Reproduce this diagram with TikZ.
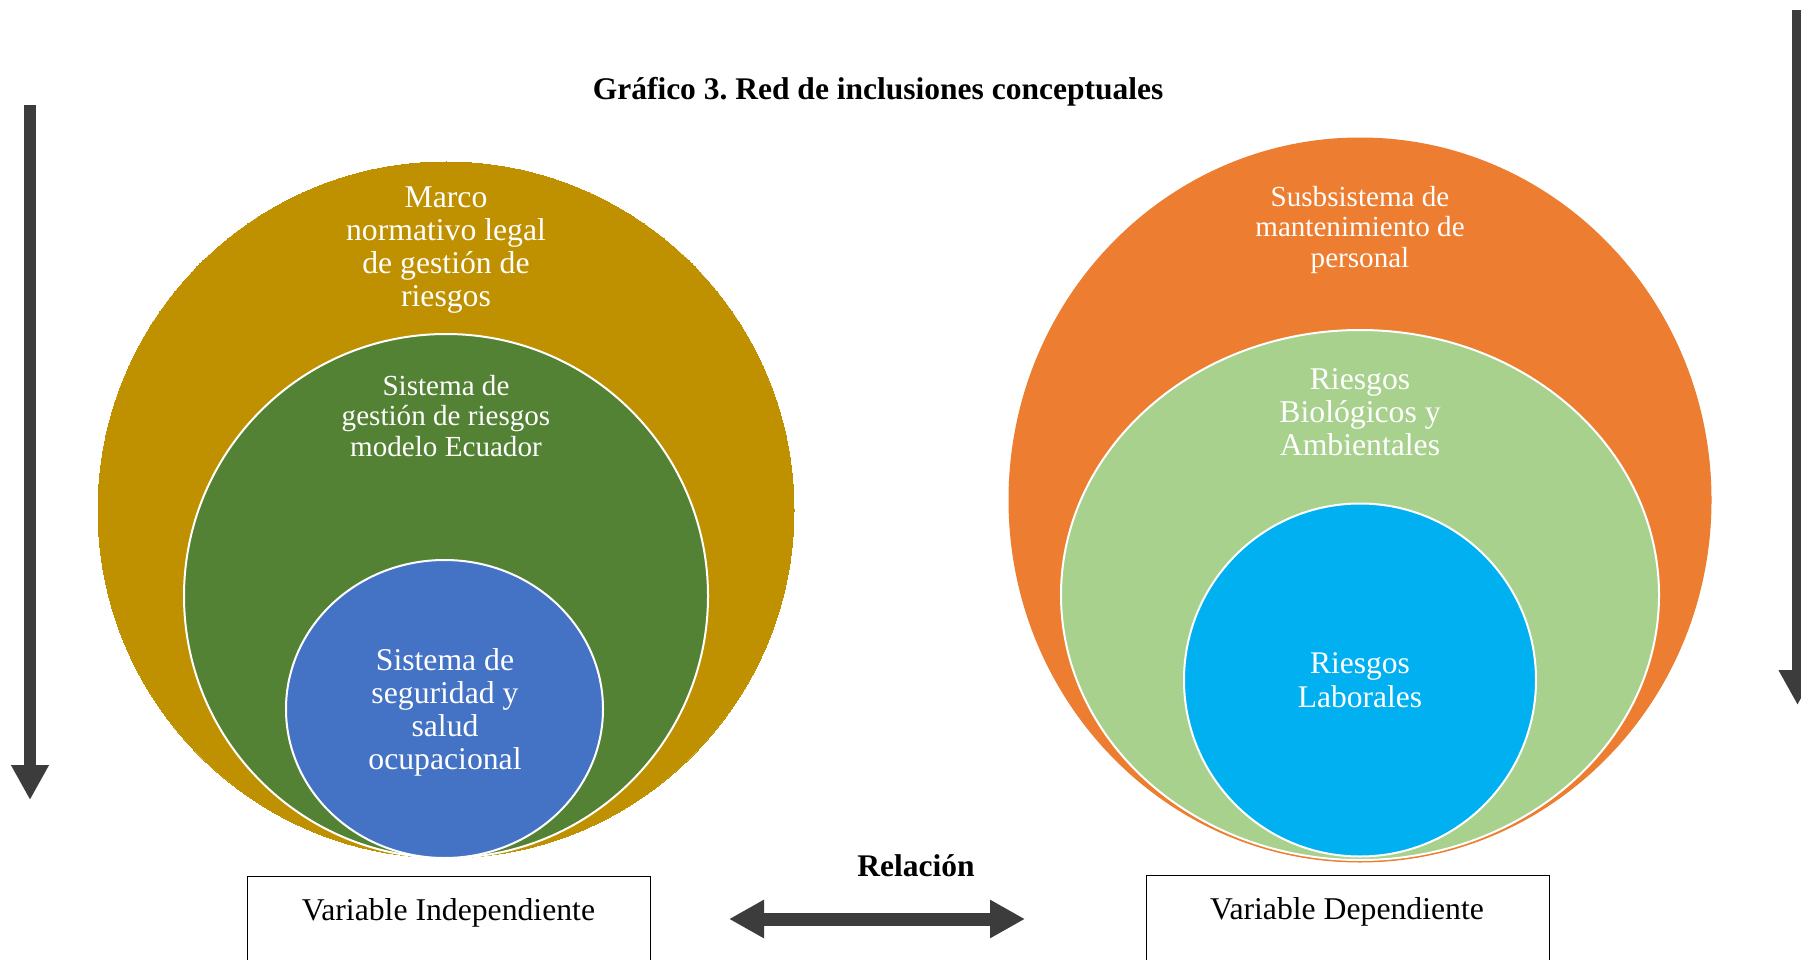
\documentclass[tikz,border=0pt]{standalone}
\usepackage{fontspec}
\setmainfont{Liberation Serif}
\usetikzlibrary{shapes.geometric,arrows.meta}
\frenchspacing
\definecolor{cgold}{HTML}{BF9000}
\definecolor{cgreen}{HTML}{548235}
\definecolor{cblue}{HTML}{4472C4}
\definecolor{corange}{HTML}{ED7D31}
\definecolor{clgreen}{HTML}{A9D18E}
\definecolor{ccyan}{HTML}{00B0F0}
\definecolor{carrow}{HTML}{3C3C3C}
\tikzset{
  blob/.style={ellipse, inner sep=0pt, draw=white, line width=2pt},
  lbl/.style={text=white, align=center, anchor=base, inner sep=0pt},
  fbig/.style={font=\fontsize{31.7}{32.7}\selectfont},
  fsmall/.style={font=\fontsize{29.1}{30.3}\selectfont},
  thickarrow/.style={draw=carrow, line width=12pt},
  headtip/.style={-{Triangle[width=35.5pt,length=35pt]}},
  varbox/.style={draw=black, line width=1.3pt, minimum width=403pt, minimum height=120pt, anchor=north west, inner sep=0pt},
  plain/.style={anchor=base, inner sep=0pt, font=\fontsize{31.7}{33}\selectfont},
}
\begin{document}
\begin{tikzpicture}[x=1pt,y=-1pt]
\useasboundingbox (0,0) rectangle (1801,960);
\clip (0,0) rectangle (1801,960);
\fill[white] (0,0) rectangle (1801,960);

% title
\node[plain, font=\bfseries\fontsize{31.5}{33}\selectfont] (title) at (878,100) {Gráfico 3. Red de inclusiones conceptuales};

% vertical arrows
\coordinate (la1) at (30,105);
\coordinate (la2) at (30,800);
\draw[thickarrow, headtip] (la1) -- (la2);
\coordinate (ra1) at (1797.5,10);
\coordinate (ra2) at (1797.5,705);
\draw[thickarrow, headtip] (ra1) -- (ra2);

% left circles
\node[blob, draw=cgold, line width=0pt, fill=cgold, minimum width=696pt, minimum height=696pt] (gold) at (446,510) {};
\node[blob, fill=cgreen, minimum width=524pt, minimum height=524pt] (green) at (446,596) {};
\node[blob, fill=cblue, minimum width=317pt, minimum height=298pt] (blue) at (444.5,709) {};

% (anchor base = baseline of the last line)
\node[lbl, fbig] (tgold) at (446,306) {Marco\\normativo legal\\de gestión de\\riesgos};
\node[lbl, fsmall] (tgreen) at (446,456) {Sistema de\\gestión de riesgos\\modelo Ecuador};
\node[lbl, font=\fontsize{31.7}{33}\selectfont] (tblue) at (445,769) {Sistema de\\seguridad y\\salud\\ocupacional};

% right circles
\node[blob, draw=corange, line width=1pt, fill=corange, minimum width=702pt, minimum height=724pt] (orange) at (1360,500) {};
\node[blob, fill=clgreen, minimum width=598pt, minimum height=530pt] (lgreen) at (1360,595) {};
\node[blob, fill=ccyan, minimum width=352pt, minimum height=353pt] (cyan) at (1360,680) {};

\node[lbl, fsmall] (torange) at (1360,267) {Susbsistema de\\mantenimiento de\\personal};
\node[lbl, fbig] (tlgreen) at (1360,455) {Riesgos\\Biológicos y\\Ambientales};
\node[lbl, font=\fontsize{31.5}{33.5}\selectfont] (tcyan) at (1360,707) {Riesgos\\Laborales};

% boxes
\node[varbox] (vind) at (247,876) {};
\node[plain] (tvind) at (448.5,920) {Variable Independiente};
\node[varbox] (vdep) at (1146,875) {};
\node[plain] (tvdep) at (1347,919) {Variable Dependiente};

% relation
\node[plain, font=\bfseries\fontsize{31.5}{33}\selectfont] (rel) at (916,876) {Relación};
\coordinate (da1) at (729,919);
\coordinate (da2) at (1025,919);
\draw[draw=carrow, line width=13pt, {Triangle[width=36pt,length=35pt]}-{Triangle[width=36pt,length=35pt]}] (da1) -- (da2);
\end{tikzpicture}
\end{document}
